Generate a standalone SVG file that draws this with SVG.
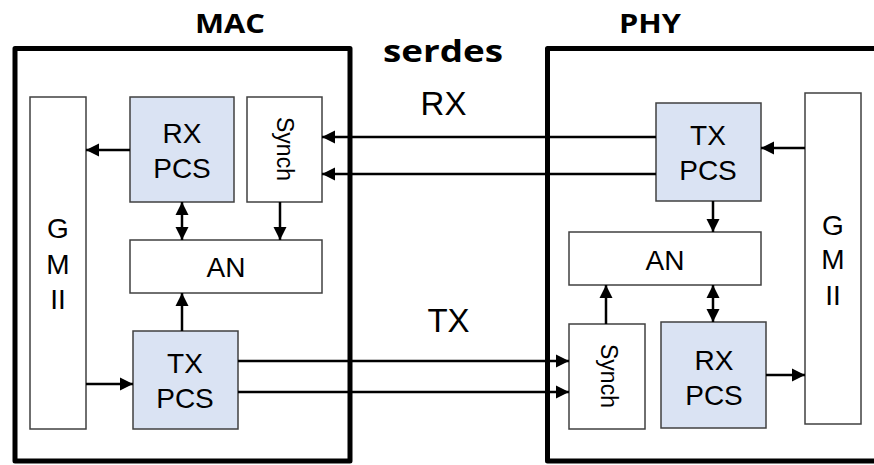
<svg xmlns="http://www.w3.org/2000/svg" width="874" height="465" viewBox="0 0 874 465">
<defs>
<marker id="ah" markerUnits="userSpaceOnUse" markerWidth="14" markerHeight="14" refX="13" refY="7" orient="auto-start-reverse">
<path d="M0,0.5 L13,7 L0,13.5 z" fill="#000"/>
</marker>
<style>
.outer{fill:none;stroke:#000;stroke-width:5;stroke-linejoin:round}
.box{fill:#fff;stroke:#404040;stroke-width:1.5}
.pcs{fill:#dae3f3;stroke:#404040;stroke-width:1.5}
.t{font-family:"Liberation Sans",Arial,sans-serif;font-size:28px;fill:#000;text-anchor:middle}
.s{font-family:"Liberation Sans",Arial,sans-serif;font-size:23px;fill:#000;text-anchor:middle}
.h{font-family:"Open Sans","Liberation Sans",sans-serif;font-weight:bold;fill:#000;text-anchor:middle}
.big{font-family:"Liberation Sans",Arial,sans-serif;font-size:33px;fill:#000;text-anchor:middle}
.c line{stroke:#000;stroke-width:2.5;marker-end:url(#ah)}
</style>
</defs>
<rect width="874" height="465" fill="#fff"/>
<g id="mac">
<rect class="outer" x="15" y="48.5" width="335" height="412.5"/>
<text class="h" x="230" y="33" font-size="26" textLength="70" lengthAdjust="spacingAndGlyphs">MAC</text>
</g>
<g id="phy">
<rect class="outer" x="547.5" y="48.5" width="340" height="412.5"/>
<text class="h" x="650" y="33" font-size="26" textLength="62" lengthAdjust="spacingAndGlyphs">PHY</text>
</g>
<g id="serdes-label">
<text class="h" x="443" y="62" font-size="31" textLength="120" lengthAdjust="spacingAndGlyphs">serdes</text>
</g>
<g id="rx-label"><text class="big" x="443.5" y="115">RX</text></g>
<g id="tx-label"><text class="big" x="448.5" y="332">TX</text></g>

<g id="mac-gmii">
<rect class="box" x="30" y="97" width="56" height="332"/>
<text class="t" x="58" y="238">G</text>
<text class="t" x="58" y="274">M</text>
<text class="t" x="58" y="309">II</text>
</g>
<g id="mac-rxpcs">
<rect class="pcs" x="130" y="97" width="104" height="105"/>
<text class="t" x="182" y="143">RX</text>
<text class="t" x="182" y="178">PCS</text>
</g>
<g id="mac-synch">
<rect class="box" x="247" y="97" width="75" height="105"/>
<text class="s" transform="translate(277,149) rotate(90)">Synch</text>
</g>
<g id="mac-an">
<rect class="box" x="130" y="240" width="192" height="53"/>
<text class="t" x="226" y="277">AN</text>
</g>
<g id="mac-txpcs">
<rect class="pcs" x="133" y="331" width="105" height="98"/>
<text class="t" x="185" y="373">TX</text>
<text class="t" x="185" y="408">PCS</text>
</g>

<g id="phy-txpcs">
<rect class="pcs" x="656" y="103" width="105" height="98"/>
<text class="t" x="708" y="145">TX</text>
<text class="t" x="708" y="180">PCS</text>
</g>
<g id="phy-gmii">
<rect class="box" x="805" y="93" width="56" height="331"/>
<text class="t" x="833" y="235">G</text>
<text class="t" x="833" y="269">M</text>
<text class="t" x="833" y="305">II</text>
</g>
<g id="phy-an">
<rect class="box" x="569" y="232" width="192" height="53"/>
<text class="t" x="665" y="270">AN</text>
</g>
<g id="phy-synch">
<rect class="box" x="569" y="324" width="76" height="105"/>
<text class="s" transform="translate(601,376) rotate(90)">Synch</text>
</g>
<g id="phy-rxpcs">
<rect class="pcs" x="661" y="322" width="105" height="106"/>
<text class="t" x="714" y="370">RX</text>
<text class="t" x="714" y="405">PCS</text>
</g>

<g id="connectors" class="c">
<line x1="130" y1="150" x2="86" y2="150"/>
<line x1="182" y1="202" x2="182" y2="240" marker-start="url(#ah)"/>
<line x1="280" y1="202" x2="280" y2="240"/>
<line x1="182" y1="331" x2="182" y2="293"/>
<line x1="86" y1="384" x2="133" y2="384"/>
<line x1="656" y1="137" x2="322" y2="137"/>
<line x1="656" y1="174" x2="322" y2="174"/>
<line x1="238" y1="361" x2="569" y2="361"/>
<line x1="238" y1="392" x2="569" y2="392"/>
<line x1="805" y1="148" x2="761" y2="148"/>
<line x1="713" y1="201" x2="713" y2="232"/>
<line x1="606" y1="324" x2="606" y2="285"/>
<line x1="713" y1="285" x2="713" y2="322" marker-start="url(#ah)"/>
<line x1="766" y1="375" x2="805" y2="375"/>
</g>
</svg>
